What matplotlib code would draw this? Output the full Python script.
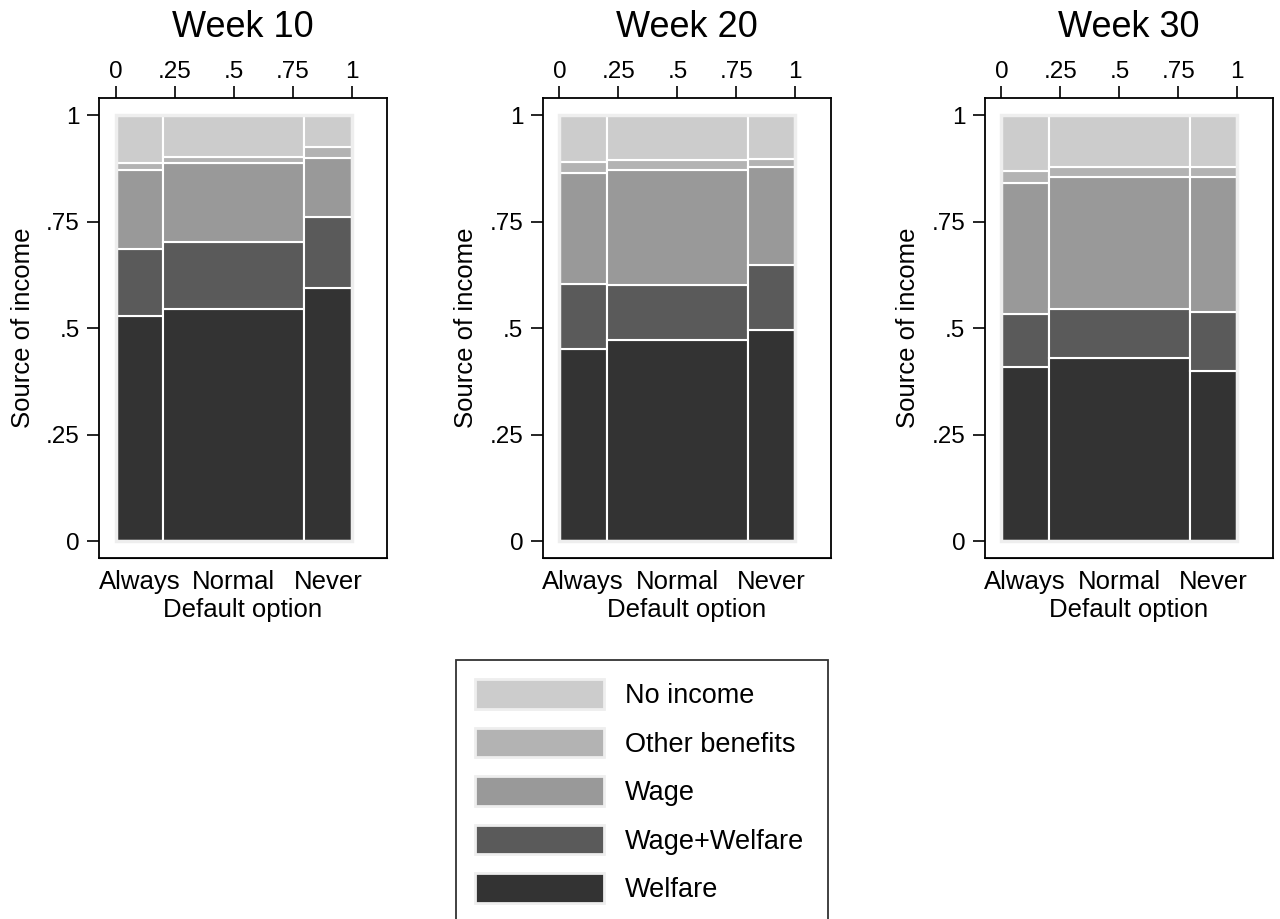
import numpy as np
import matplotlib
matplotlib.use('Agg')
import matplotlib.pyplot as plt
from matplotlib.patches import Patch, Rectangle

plt.rcParams['font.family'] = ['Liberation Sans', 'DejaVu Sans']

weeks = ['Week 10', 'Week 20', 'Week 30']
groups = ['Always', 'Normal', 'Never']
group_share = [0.20, 0.60, 0.20]

# stacked bottom -> top
categories = ['Welfare', 'Wage+Welfare', 'Wage', 'Other benefits', 'No income']
colors = ['#333333', '#5a5a5a', '#999999', '#b3b3b3', '#cccccc']

# rows: Always, Normal, Never ; columns follow categories
week10 = [[0.528, 0.157, 0.186, 0.017, 0.112],
          [0.545, 0.156, 0.186, 0.015, 0.098],
          [0.593, 0.168, 0.137, 0.026, 0.076]]
week20 = [[0.450, 0.153, 0.260, 0.027, 0.110],
          [0.473, 0.127, 0.271, 0.023, 0.106],
          [0.495, 0.153, 0.230, 0.019, 0.103]]
week30 = [[0.408, 0.124, 0.309, 0.027, 0.132],
          [0.429, 0.115, 0.310, 0.025, 0.121],
          [0.399, 0.138, 0.318, 0.023, 0.122]]

ticks = [0, 0.25, 0.5, 0.75, 1]
tick_labels = ['0', '.25', '.5', '.75', '1']

## Plot

fig = plt.figure(figsize=(12.8, 9.19), dpi=100)

lefts = [99, 542.7, 984.7]
W, H = 1280.0, 919.0

widths = np.array(group_share)
starts = np.concatenate([[0], np.cumsum(widths)[:-1]])
centers = starts + widths / 2

for i, (title, data) in enumerate(zip(weeks, [week10, week20, week30])):
    ax = fig.add_axes([lefts[i] / W, 1 - 557.7 / H, 288 / W, 459.7 / H])
    data = np.array(data)
    for g in range(len(groups)):
        bottom = 0.0
        for c in range(len(categories)):
            ax.bar(starts[g], data[g, c], width=widths[g], bottom=bottom, align='edge',
                   color=colors[c], edgecolor='white', linewidth=1.5, zorder=2)
            bottom += data[g, c]
    ax.add_patch(Rectangle((0, 0), 1, 1, fill=False, edgecolor='#eeeeee',
                           linewidth=2.5, zorder=3))

    ax.set_xlim(-0.071, 1.15)
    ax.set_ylim(-0.039, 1.040)

    ax.set_xticks(ticks)
    ax.set_xticklabels(tick_labels)
    ax.set_yticks(ticks)
    ax.set_yticklabels(tick_labels)
    ax.tick_params(axis='x', top=True, labeltop=True, bottom=False, labelbottom=False,
                   length=9, width=1.2, labelsize=17.5, pad=1.5)
    ax.tick_params(axis='y', length=9, width=1.2, labelsize=17.5, pad=5)
    for s in ax.spines.values():
        s.set_linewidth(1.3)

    sec = ax.secondary_xaxis('bottom')
    sec.set_xticks(centers)
    sec.set_xticklabels(groups)
    sec.tick_params(length=0, labelsize=18.5, pad=9)
    sec.set_xlabel('Default option', fontsize=18.5, labelpad=2.5)

    ax.set_ylabel('Source of income', fontsize=18.5, labelpad=8)
    ax.set_title(title, fontsize=26, y=1.1327, pad=0, va='baseline')

handles = [Patch(facecolor=colors[c], edgecolor='#eeeeee', linewidth=2)
           for c in range(len(categories) - 1, -1, -1)]
labels = categories[::-1]
leg = fig.legend(handles, labels, loc='upper left',
                 bbox_to_anchor=(455.7 / W, 1 - 660.7 / H, (828 - 455.7) / W, 0.001),
                 mode='expand', fontsize=19.5, frameon=True, fancybox=False,
                 handlelength=4.74, handleheight=1.3, labelspacing=0.69,
                 handletextpad=0.8, borderpad=0.72, borderaxespad=0)
leg.get_frame().set_edgecolor('black')
leg.get_frame().set_linewidth(1.3)

fig.savefig('out.png', dpi=100)
